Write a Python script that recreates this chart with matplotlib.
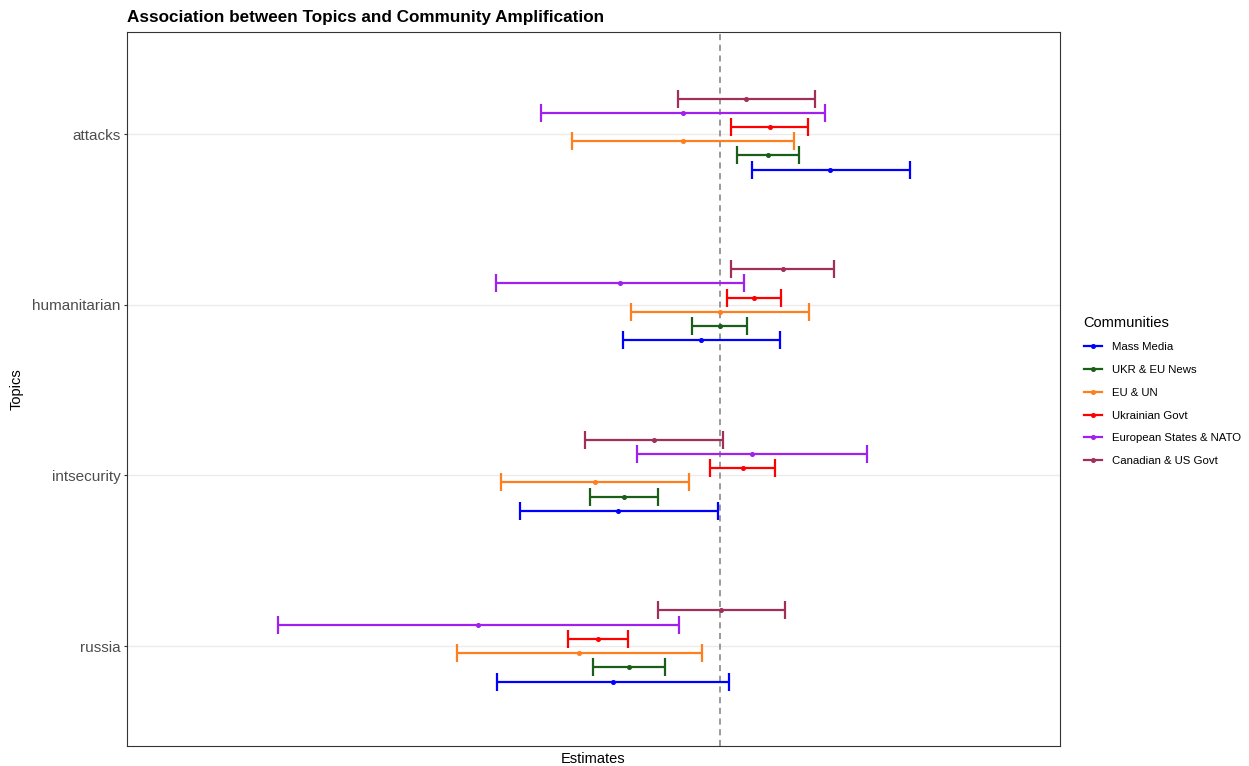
import numpy as np
import matplotlib.pyplot as plt
from matplotlib.lines import Line2D

plt.rcParams['font.family'] = ['Liberation Sans', 'DejaVu Sans']

topics = ['russia', 'intsecurity', 'humanitarian', 'attacks']
communities = ['Mass Media', 'UKR & EU News', 'EU & UN', 'Ukrainian Govt',
               'European States & NATO', 'Canadian & US Govt']
colors = ['#0000FF', '#1A5E1A', '#FF7F1E', '#FF0000', '#A020F0', '#A0305A']

# estimates and confidence bounds, rows follow topics, columns follow communities
estimate = [
    [-1.07, -0.91, -1.41, -1.22, -2.42, 0.01],   # russia
    [-1.02, -0.96, -1.25, 0.23, 0.32, -0.66],    # intsecurity
    [-0.19, 0.00, 0.00, 0.34, -1.00, 0.63],      # humanitarian
    [1.10, 0.48, -0.37, 0.50, -0.37, 0.26],      # attacks
]
conf_low = [
    [-2.23, -1.27, -2.63, -1.52, -4.42, -0.62],
    [-2.00, -1.30, -2.19, -0.10, -0.83, -1.35],
    [-0.97, -0.28, -0.89, 0.07, -2.24, 0.11],
    [0.32, 0.17, -1.48, 0.11, -1.79, -0.42],
]
conf_high = [
    [0.09, -0.55, -0.18, -0.92, -0.41, 0.65],
    [-0.02, -0.62, -0.31, 0.55, 1.47, 0.03],
    [0.60, 0.27, 0.89, 0.61, 0.24, 1.14],
    [1.90, 0.79, 0.74, 0.88, 1.05, 0.95],
]

est = np.array(estimate)
lo = np.array(conf_low)
hi = np.array(conf_high)

fig = plt.figure(figsize=(12.49, 7.66), dpi=100)
ax = fig.add_axes([0.1017, 0.0261, 0.7470, 0.9321])

# dodge the communities within each topic
dodge = 0.5
n = len(communities)
offsets = (np.arange(n) - (n - 1) / 2) * dodge / n
ypos = np.arange(1, len(topics) + 1)

for j, (name, col) in enumerate(zip(communities, colors)):
    y = ypos + offsets[j]
    ax.errorbar(est[:, j], y, xerr=[est[:, j] - lo[:, j], hi[:, j] - est[:, j]],
                fmt='o', color=col, ecolor=col, elinewidth=1.6, capsize=6.5,
                capthick=1.6, markersize=2.6, zorder=3)

ax.axvline(0, color='#7F7F7F', linestyle=(0, (4, 3)), linewidth=1.1, zorder=2)

ax.set_xlim(-5.93, 3.40)
ax.set_ylim(0.414, 4.598)
ax.set_yticks(ypos)
ax.set_yticklabels(topics, fontsize=11, color='#4D4D4D')
ax.set_xticks([])
ax.tick_params(axis='y', length=2.5, pad=2, color='#333333')
ax.grid(axis='y', color='#EBEBEB', linewidth=1.0, zorder=0)
ax.set_axisbelow(True)
for sp in ax.spines.values():
    sp.set_color('#333333')
    sp.set_linewidth(0.8)

ax.set_xlabel('Estimates', fontsize=10.5, labelpad=4)
ax.set_ylabel('Topics', fontsize=10.5, labelpad=6)
ax.set_title('Association between Topics and Community Amplification',
             fontsize=12.3, fontweight='bold', loc='left', pad=7)

handles = [Line2D([0], [0], color=c, marker='o', markersize=2.6, linewidth=1.6)
           for c in colors]
leg = fig.legend(handles, communities, title='Communities', loc='upper left',
                 bbox_to_anchor=(0.864, 0.594), frameon=False, fontsize=8.2,
                 title_fontsize=10.5, handlelength=1.6, handletextpad=0.9,
                 labelspacing=1.12, borderaxespad=0)
leg._legend_box.align = 'left'

fig.savefig('out.png', dpi=100)
